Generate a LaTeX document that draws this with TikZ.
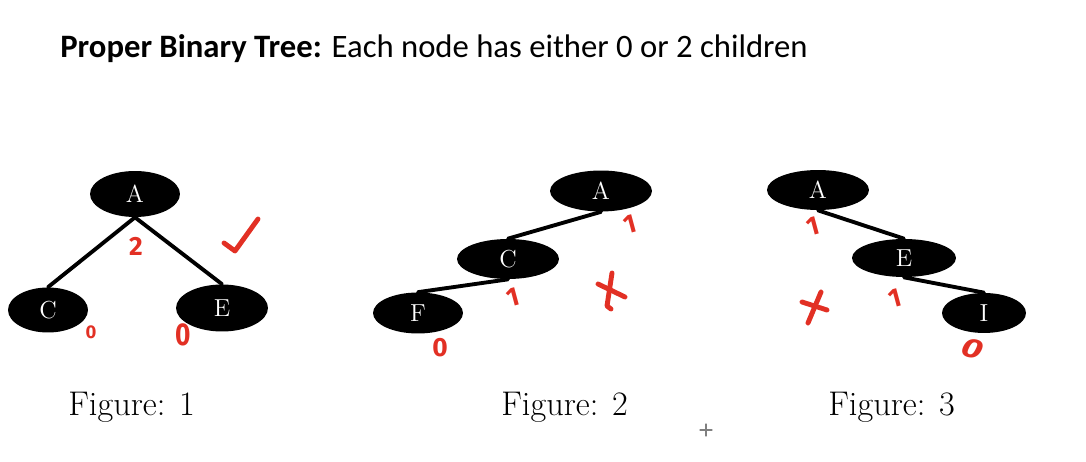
\documentclass[tikz,border=0pt]{standalone}
\usepackage{fontspec}
\usepackage{tikz}
\usetikzlibrary{shapes.geometric}
\newfontfamily\titlefont{Carlito}
\newfontfamily\penfont{Fira Sans}
\definecolor{inkred}{RGB}{226,48,36}

\begin{document}
\begin{tikzpicture}[x=0.02cm,y=-0.02cm,line cap=round,
  vertex/.style={ellipse,fill=black,inner sep=0pt,text=white,font=\fontsize{14}{16}\selectfont},
  edge/.style={line width=2.2pt},
  pen/.style={inkred,line width=2.8pt,line join=round},
  tally/.style={inkred,font=\penfont\fontsize{15}{17}\selectfont\bfseries,inner sep=0pt},
  caption/.style={anchor=base west,font=\fontsize{19.5}{22}\selectfont,inner sep=0pt}]
\useasboundingbox (0,0) rectangle (1086,462);
% heading
\node[anchor=base west,inner sep=0pt,font=\titlefont\fontsize{18.6}{22}\selectfont] (title) at (60,58)
  {\textbf{Proper Binary Tree:} Each node has either 0 or 2 children};
% figure 1
\node[vertex,minimum width=1.8cm,minimum height=0.92cm] (a1) at (135,194) {A};
\node[vertex,minimum width=1.6cm,minimum height=0.9cm] (c1) at (48,310) {C};
\node[vertex,minimum width=1.84cm,minimum height=0.94cm] (e1) at (222,308) {E};
\draw[edge] (a1.south) -- (c1.north);
\draw[edge] (a1.south) -- (e1.north);
\node[tally] (n2) at (136,246) {2};
\node[tally,scale=0.7] (n0c) at (91,332) {0};
\node[tally,yscale=1.2] (n0e) at (183,335) {0};
\draw[pen] (224,243) -- (235,251) -- (258,219);
\node[caption] (fig1) at (68,416) {Figure: 1};
% figure 2
\node[vertex,minimum width=2.04cm,minimum height=0.82cm] (a2) at (601,191) {A};
\node[vertex,minimum width=2.04cm,minimum height=0.8cm] (c2) at (508,259) {C};
\node[vertex,minimum width=1.8cm,minimum height=0.82cm] (f2) at (418,313) {F};
\draw[edge] (a2.south) -- (c2.north);
\draw[edge] (c2.south) -- (f2.north);
\node[tally,rotate=15] (n1a2) at (630,224) {1};
\node[tally,rotate=15] (n1c2) at (513,297) {1};
\node[tally] (n0f2) at (440,348) {0};
\draw[pen] (598,284) -- (625,297);
\draw[pen] (612,273) -- (607,306) -- (611,309);
\node[caption] (fig2) at (501,416) {Figure: 2};
% figure 3
\node[vertex,minimum width=2.04cm,minimum height=0.8cm] (a3) at (818,190) {A};
\node[vertex,minimum width=2.08cm,minimum height=0.76cm] (e3) at (904,258) {E};
\node[vertex,minimum width=1.68cm,minimum height=0.8cm] (i3) at (984,313) {I};
\draw[edge] (a3.south) -- (e3.north);
\draw[edge] (e3.south) -- (i3.north);
\node[tally,rotate=15] (n1a3) at (813,226) {1};
\node[tally,rotate=15] (n1e3) at (895,298) {1};
\node[tally,xscale=1.4,rotate=-20] (n0i3) at (973,349) {0};
\draw[pen] (802,302) -- (827,310);
\draw[pen] (821,292) -- (808,323);
\node[caption] (fig3) at (828,416) {Figure: 3};
% pointer
\draw[gray,line width=0.6pt] (700,430) -- (712,430) (706,424) -- (706,436);
\end{tikzpicture}
\end{document}
